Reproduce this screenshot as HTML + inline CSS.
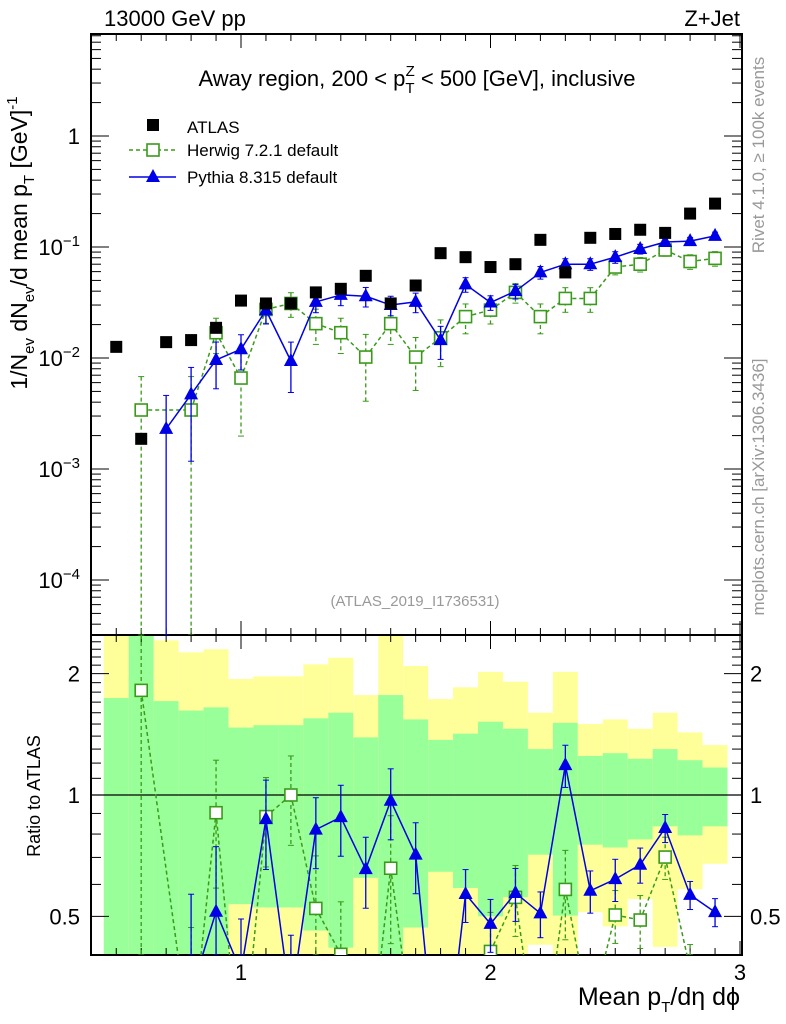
<!DOCTYPE html>
<html><head><meta charset="utf-8"><style>
html,body{margin:0;padding:0;background:#fff;overflow:hidden;width:786px;height:1024px;}
svg{display:block;font-family:"Liberation Sans",Arial,sans-serif;}
</style></head><body>
<svg id="c" width="786" height="1024" viewBox="0 0 786 1024" xmlns="http://www.w3.org/2000/svg"></svg>
<script>
const bins=[0.5,0.6,0.7,0.8,0.9,1.0,1.1,1.2,1.3,1.4,1.5,1.6,1.7,1.8,1.9,2.0,2.1,2.2,2.3,2.4,2.5,2.6,2.7,2.8,2.9];
const atlas=[0.0126,0.00187,0.0139,0.0145,0.0187,0.0329,0.031,0.031,0.039,0.042,0.055,0.031,0.045,0.088,0.081,0.066,0.070,0.116,0.059,0.121,0.131,0.143,0.134,0.20,0.246];
const herwig=[null,0.0034,null,0.0034,0.0169,0.0066,0.0274,0.031,0.0204,0.0169,0.0102,0.0204,0.0102,0.0152,0.0236,0.027,0.039,0.0236,0.0344,0.0344,0.066,0.070,0.094,0.074,0.079];
const herwigErr=[0,1.0,0,1.0,0.35,0.7,0.25,0.25,0.35,0.35,0.6,0.35,0.5,0.45,0.3,0.25,0.2,0.3,0.25,0.25,0.15,0.15,0.12,0.15,0.15];
const pythia=[null,null,0.0023,0.0047,0.0096,0.012,0.027,0.0094,0.032,0.037,0.036,0.030,0.032,0.0145,0.046,0.0316,0.040,0.059,0.070,0.070,0.081,0.096,0.111,0.113,0.126];
const pythiaErr=[0,0,1.0,0.75,0.45,0.35,0.25,0.48,0.2,0.2,0.2,0.2,0.2,0.33,0.15,0.15,0.15,0.13,0.12,0.12,0.12,0.1,0.08,0.08,0.08];
const yellowHi=[2.49,2.6,2.42,2.26,2.30,1.94,1.97,1.97,2.11,2.19,1.77,2.6,2.09,1.73,1.85,2.02,1.91,1.60,2.02,1.50,1.54,1.46,1.60,1.43,1.33];
const greenHi=[1.74,2.6,1.71,1.62,1.65,1.47,1.49,1.49,1.55,1.60,1.39,1.77,1.54,1.37,1.42,1.52,1.46,1.30,1.51,1.25,1.27,1.23,1.30,1.22,1.17];
const greenLo=[0.35,0.35,0.35,0.35,0.35,0.536,0.526,0.526,0.461,0.418,0.623,0.35,0.469,0.645,0.588,0.50,0.558,0.711,0.502,0.753,0.741,0.776,0.836,0.794,0.836];
const yellowLo=[0.35,0.35,0.35,0.35,0.35,0.35,0.35,0.35,0.35,0.35,0.35,0.35,0.35,0.35,0.35,0.35,0.35,0.425,0.35,0.512,0.472,0.552,0.42,0.584,0.675];
const xTicks=[1,2,3];
const mainYTicks=[-4,-3,-2,-1,0];
const ratioTicks=[0.5,1,2];

const NS="http://www.w3.org/2000/svg";
const svg=document.getElementById('c');
const L=91,R=742,T=34,MB=635,RB=955;
const X=v=>241+(v-1)*249.5;
const Y=v=>136-111*Math.log10(v);
const RY=v=>795-403*Math.log10(v);
function el(tag,attrs,parent){const e=document.createElementNS(NS,tag);for(const k in attrs)e.setAttribute(k,attrs[k]);(parent||svg).appendChild(e);return e;}
function txt(s,attrs,parent){const e=el('text',attrs,parent);e.innerHTML=s;return e;}

const defs=el('defs',{});
const c1=el('clipPath',{id:'cm'},defs);el('rect',{x:L,y:T,width:R-L,height:MB-T},c1);
const c2=el('clipPath',{id:'cr'},defs);el('rect',{x:L,y:MB,width:R-L,height:RB-MB},c2);

const bands=el('g',{'clip-path':'url(#cr)'});


bins.forEach((b,i)=>{
  const x0=X(b-0.05),w=X(b+0.05)-x0;
  const top=Math.max(MB,RY(yellowHi[i])),bot=Math.min(RB,RY(yellowLo[i]));
  const yb=el('rect',{x:x0,y:top,width:w,height:bot-top,fill:'#ffff99'},bands);
  
  
  const gt=Math.max(MB,RY(greenHi[i])),gbt=Math.min(RB,RY(greenLo[i]));
  const gb=el('rect',{x:x0,y:gt,width:w,height:gbt-gt,fill:'#99ff99'},bands);
  
  
});
el('line',{x1:L,x2:R,y1:RY(1),y2:RY(1),stroke:'#000','stroke-width':1.3});

const f1=el('rect',{x:L,y:T,width:R-L,height:MB-T,fill:'none',stroke:'#000','stroke-width':2});

const f2=el('rect',{x:L,y:MB,width:R-L,height:RB-MB,fill:'none',stroke:'#000','stroke-width':2});


for(let k=4;k<=30;k++){const v=k/10,x=X(v);if(x<L||x>R)continue;const maj=(k%10===0),h=maj?14:7;
 [T,MB].forEach(y=>el('line',{x1:x,x2:x,y1:y,y2:y+h,stroke:'#000','stroke-width':1}));
 [MB,RB].forEach(y=>el('line',{x1:x,x2:x,y1:y,y2:y-h,stroke:'#000','stroke-width':1}));}
xTicks.forEach(v=>{const t=txt(String(v),{x:X(v),y:980,'font-size':22,'text-anchor':'middle'});});

for(let d=-5;d<=1;d++){for(let m=1;m<10;m++){const v=m*Math.pow(10,d),y=Y(v);if(y<T||y>MB)continue;const h=m===1?18:10;
 el('line',{x1:L,x2:L+h,y1:y,y2:y,stroke:'#000'});el('line',{x1:R,x2:R-h,y1:y,y2:y,stroke:'#000'});}}
mainYTicks.forEach(d=>{const y=Y(Math.pow(10,d));let t;
 if(d===0)t=txt('1',{x:80,y:y+8,'font-size':22,'text-anchor':'end'});
 else t=txt('10<tspan dy="-9" font-size="15">&#8722;'+(-d)+'</tspan>',{x:80,y:y+8,'font-size':22,'text-anchor':'end'});
 });

for(let v=0.4;v<=2.6;v=Math.round((v+0.1)*10)/10){const y=RY(v);if(y<MB||y>RB)continue;const maj=[0.5,1,2].includes(v),h=maj?18:10;
 el('line',{x1:L,x2:L+h,y1:y,y2:y,stroke:'#000'});el('line',{x1:R,x2:R-h,y1:y,y2:y,stroke:'#000'});}
ratioTicks.forEach(v=>{const y=RY(v);
 const a=txt(String(v),{x:80,y:y+8,'font-size':22,'text-anchor':'end'});
 const b=txt(String(v),{x:750,y:y+8,'font-size':22});});

// clip a segment list to y in [ymin,ymax]; returns array of segments
function clipSeg(a,b,ymin,ymax){
 let [x1,y1]=a,[x2,y2]=b;
 if((y1>ymax&&y2>ymax)||(y1<ymin&&y2<ymin))return null;
 const f=(y)=>x1+(x2-x1)*(y-y1)/(y2-y1);
 if(y1>ymax){x1=f(ymax);y1=ymax;}else if(y1<ymin){x1=f(ymin);y1=ymin;}
 if(y2>ymax){x2=f(ymax);y2=ymax;}else if(y2<ymin){x2=f(ymin);y2=ymin;}
 return [[x1,y1],[x2,y2]];
}
function series(vals,errs,yf,clip,color,dash,marker,name,parentName,ymin,ymax){
 const g=el('g',{'clip-path':clip});
 
 
 let pts=[];bins.forEach((b,i)=>{if(vals[i]!=null)pts.push([X(b),yf(vals[i])]);});
 let d='';
 for(let k=0;k<pts.length-1;k++){const s=clipSeg(pts[k],pts[k+1],ymin,ymax);if(s)d+=`M${s[0][0]},${s[0][1]}L${s[1][0]},${s[1][1]}`;}
 const pl=el('path',{d:d,fill:'none',stroke:color,'stroke-width':1.5,'stroke-dasharray':dash},g);
 
 bins.forEach((b,i)=>{if(vals[i]==null)return;const x=X(b),v=vals[i],e=errs[i];
  const lo=v*(1-e),hi=v*(1+e);
  let y1=Math.max(ymin,yf(hi)),y2=lo>0?Math.min(ymax,yf(lo)):ymax;
  if(y1>=ymax)return;
  const eb=el('line',{x1:x,x2:x,y1:y1,y2:y2,stroke:color,'stroke-width':1.3,'stroke-dasharray':dash},g);
  
  el('line',{x1:x-3,x2:x+3,y1:y1,y2:y1,stroke:color},g);el('line',{x1:x-3,x2:x+3,y1:y2,y2:y2,stroke:color},g);
  const y=yf(v);if(y>ymax+10||y<ymin-10)return;let m;
  if(marker==='sq')m=el('rect',{x:x-6,y:y-6,width:12,height:12,fill:'#fff',stroke:color,'stroke-width':1.6},g);
  else m=el('polygon',{points:`${x},${y-8} ${x-7},${y+5} ${x+7},${y+5}`,fill:color},g);
  
 });
}
series(herwig,herwigErr,Y,'url(#cm)','#3a9a1a','4,3','sq','herwig','herwig-series',T,MB);
series(pythia,pythiaErr,Y,'url(#cm)','#0000e6','none','tri','pythia','pythia-series',T,MB);
const ag=el('g',{'clip-path':'url(#cm)'});

bins.forEach((b,i)=>{const r=el('rect',{x:X(b)-6,y:Y(atlas[i])-6,width:12,height:12,fill:'#000'},ag);
 });
const hr=herwig.map((v,i)=>v==null?null:v/atlas[i]);
const pr=pythia.map((v,i)=>v==null?null:v/atlas[i]);
series(hr,herwigErr,RY,'url(#cr)','#3a9a1a','4,3','sq','herwig-ratio','herwig-ratio-series',MB,RB);
series(pr,pythiaErr,RY,'url(#cr)','#0000e6','none','tri','pythia-ratio','pythia-ratio-series',MB,RB);

function label(s,attrs,name){const t=txt(s,attrs);return t;}
label('13000 GeV pp',{x:104,y:26,'font-size':22},'energy-label');
label('Z+Jet',{x:740,y:26,'font-size':22,'text-anchor':'end'},'process-label');
label('Away region, 200 &lt; p<tspan font-size="15" dy="7">T</tspan><tspan font-size="15" dx="-9" dy="-17">Z</tspan><tspan dy="10"> &lt; 500 [GeV], inclusive</tspan>',{x:417,y:86,'font-size':22,'text-anchor':'middle'},'plot-title');
label('(ATLAS_2019_I1736531)',{x:415,y:606,'font-size':15,fill:'#999','text-anchor':'middle'},'analysis-id');
label('Mean p<tspan font-size="15" dy="7">T</tspan><tspan dy="-7">/dη dϕ</tspan>',{x:740,y:1005,'font-size':25,'text-anchor':'end'},'x-axis-title');
label('1/N<tspan font-size="15" dy="7">ev</tspan><tspan dy="-7"> dN</tspan><tspan font-size="15" dy="7">ev</tspan><tspan dy="-7">/d mean p</tspan><tspan font-size="15" dy="7">T</tspan><tspan dy="-7"> [GeV]</tspan><tspan font-size="15" dy="-10">-1</tspan>',{transform:'translate(27,243) rotate(-90)','font-size':23,'text-anchor':'middle'},'y-axis-title');
label('Ratio to ATLAS',{transform:'translate(40,796) rotate(-90)','font-size':18,'text-anchor':'middle'},'ratio-axis-title');
label('Rivet 4.1.0, ≥ 100k events',{transform:'translate(764,155) rotate(-90)','font-size':17,fill:'#999','text-anchor':'middle'},'rivet-version');
label('mcplots.cern.ch [arXiv:1306.3436]',{transform:'translate(764,487) rotate(-90)','font-size':17,fill:'#999','text-anchor':'middle'},'mcplots-credit');

const lg=el('g',{});
const e1=el('rect',{x:147,y:119,width:12,height:12,fill:'#000'},lg);
const t1=txt('ATLAS',{x:187,y:133,'font-size':17},lg);
el('line',{x1:129,x2:176,y1:150,y2:150,stroke:'#3a9a1a','stroke-width':1.5,'stroke-dasharray':'4,3'},lg);
el('rect',{x:147,y:144,width:12,height:12,fill:'#fff',stroke:'#3a9a1a','stroke-width':1.6},lg);
const t2=txt('Herwig 7.2.1 default',{x:187,y:156,'font-size':17},lg);
el('line',{x1:129,x2:176,y1:177,y2:177,stroke:'#0000e6','stroke-width':1.5},lg);
el('polygon',{points:'153,169 146,182 160,182',fill:'#0000e6'},lg);
const t3=txt('Pythia 8.315 default',{x:187,y:183,'font-size':17},lg);
</script>
</body></html>
